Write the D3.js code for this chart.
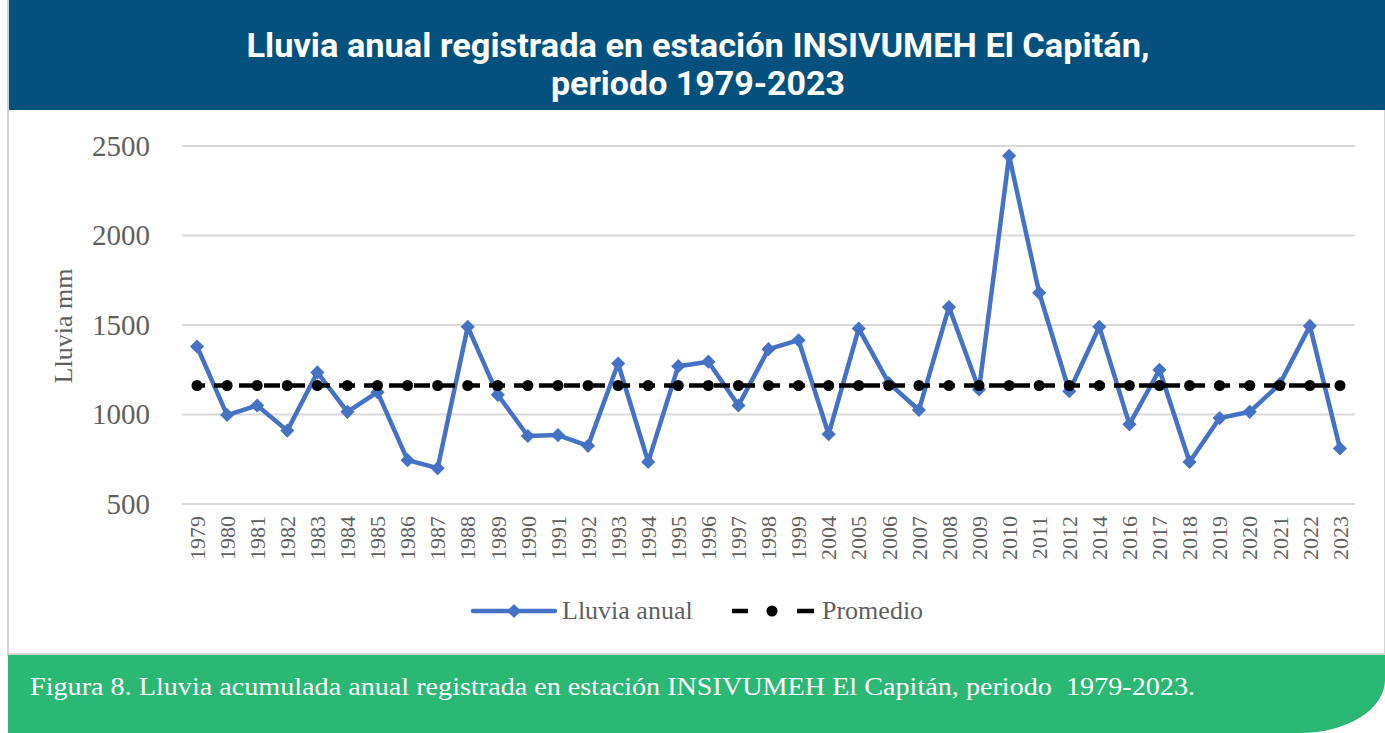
<!DOCTYPE html>
<html>
<head>
<meta charset="utf-8">
<script src="https://cdn.jsdelivr.net/npm/d3@7"></script>
<style>
  body { margin: 0; background: #fff; }
  svg { display: block; }
</style>
</head>
<body>
<svg id="chart" width="1385" height="733"></svg>
<script>
// data
const years = ["1979","1980","1981","1982","1983","1984","1985","1986","1987","1988",
  "1989","1990","1991","1992","1993","1994","1995","1996","1997","1998","1999",
  "2004","2005","2006","2007","2008","2009","2010","2011","2012","2014",
  "2016","2017","2018","2019","2020","2021","2022","2023"];
const lluviaAnual = [1380,997,1050,910,1235,1015,1125,745,700,1490,
  1110,880,885,825,1285,735,1270,1295,1050,1365,1415,
  890,1480,1175,1025,1600,1140,2445,1680,1130,1490,
  945,1250,735,980,1015,1170,1495,810];
const promedio = years.map(() => 1162);
const yTicks = [500, 1000, 1500, 2000, 2500];

const titleLines = ["Lluvia anual registrada en estación INSIVUMEH El Capitán,", "periodo 1979-2023"];
const caption = "Figura 8. Lluvia acumulada anual registrada en estación INSIVUMEH El Capitán, periodo  1979-2023.";

const W = 1385, H = 733;
const plot = {left: 182, right: 1355, top: 146, bottom: 504};
const serif = "'Liberation Serif', 'DejaVu Serif', serif";

const svg = d3.select("#chart");

// frame
svg.append("rect").attr("x", 8).attr("y", 0.5).attr("width", W - 8).attr("height", 655)
  .attr("fill", "#fff").attr("stroke", "#d4d4d4").attr("stroke-width", 2);

// header band
svg.append("rect").attr("x", 9).attr("y", 0).attr("width", W - 9).attr("height", 110)
  .attr("fill", "#03517c");

svg.append("text").attr("x", 698).attr("y", 57)
  .attr("text-anchor", "middle").attr("fill", "#fff")
  .attr("font-family", "'Liberation Sans Narrow', 'Roboto', 'Liberation Sans', sans-serif")
  .attr("font-weight", "bold").attr("font-size", 34)
  .attr("textLength", 903).attr("lengthAdjust", "spacingAndGlyphs")
  .text(titleLines[0]);
svg.append("text").attr("x", 698).attr("y", 95)
  .attr("text-anchor", "middle").attr("fill", "#fff")
  .attr("font-family", "'Liberation Sans Narrow', 'Roboto', 'Liberation Sans', sans-serif")
  .attr("font-weight", "bold").attr("font-size", 34)
  .attr("textLength", 294).attr("lengthAdjust", "spacingAndGlyphs")
  .text(titleLines[1]);

// scales
const x = d3.scaleBand().domain(years).range([plot.left, plot.right]);
const y = d3.scaleLinear().domain([500, 2500]).range([plot.bottom, plot.top]);
const cx = d => x(d) + x.bandwidth() / 2;

// gridlines
svg.append("g").selectAll("line").data(yTicks).join("line")
  .attr("x1", plot.left).attr("x2", plot.right)
  .attr("y1", d => y(d)).attr("y2", d => y(d))
  .attr("stroke", "#d9d9d9").attr("stroke-width", 2);

// y axis
const yAxis = svg.append("g")
  .attr("transform", `translate(${plot.left}, 0)`)
  .call(d3.axisLeft(y).tickValues(yTicks).tickSize(0).tickPadding(32).tickFormat(d3.format("d")));
yAxis.select(".domain").remove();
yAxis.selectAll("text").attr("font-family", serif).attr("font-size", 29).attr("fill", "#5f5f5f");

// x axis
const xAxis = svg.append("g")
  .attr("transform", `translate(0, ${plot.bottom})`)
  .call(d3.axisBottom(x).tickSize(0).tickPadding(0));
xAxis.select(".domain").remove();
xAxis.selectAll("text")
  .attr("font-family", serif).attr("font-size", 22).attr("fill", "#5f5f5f")
  .attr("text-anchor", "end").attr("dy", "0.35em")
  .attr("transform", "translate(0, 12) rotate(-90)")
  .attr("x", 0).attr("y", 0);

// y axis title
svg.append("text").attr("transform", "translate(72, 326) rotate(-90)")
  .attr("text-anchor", "middle").attr("font-family", serif).attr("font-size", 26)
  .attr("fill", "#5f5f5f").text("Lluvia mm");

// lines
const lineGen = d3.line().x((d, i) => cx(years[i])).y(d => y(d));

svg.append("path").datum(lluviaAnual).attr("d", lineGen)
  .attr("fill", "none").attr("stroke", "#4472c4").attr("stroke-width", 4.5)
  .attr("stroke-linejoin", "round");

const diamond = d3.symbol().type(d3.symbolSquare).size(100);
svg.append("g").selectAll("path").data(lluviaAnual).join("path")
  .attr("d", diamond)
  .attr("transform", (d, i) => `translate(${cx(years[i])}, ${y(d)}) rotate(45)`)
  .attr("fill", "#4472c4");

svg.append("path").datum(promedio).attr("d", lineGen)
  .attr("fill", "none").attr("stroke", "#000").attr("stroke-width", 4.5)
  .attr("stroke-dasharray", "16,9").attr("stroke-dashoffset", 8);

svg.append("g").selectAll("circle").data(promedio).join("circle")
  .attr("cx", (d, i) => cx(years[i])).attr("cy", d => y(d)).attr("r", 5.5)
  .attr("fill", "#000");

// legend
const lg = svg.append("g").attr("transform", "translate(0, 611)");
lg.append("line").attr("x1", 473).attr("x2", 555).attr("y1", 0).attr("y2", 0)
  .attr("stroke", "#4472c4").attr("stroke-width", 4.5).attr("stroke-linecap", "round");
lg.append("path").attr("d", diamond).attr("transform", "translate(514, 0) rotate(45)")
  .attr("fill", "#4472c4");
lg.append("text").attr("x", 562).attr("y", 0).attr("dy", "0.32em")
  .attr("font-family", serif).attr("font-size", 26).attr("fill", "#5f5f5f")
  .text("Lluvia anual");

lg.append("line").attr("x1", 732).attr("x2", 814).attr("y1", 0).attr("y2", 0)
  .attr("stroke", "#000").attr("stroke-width", 4.5).attr("stroke-dasharray", "16,49,17");
lg.append("circle").attr("cx", 772).attr("cy", 0).attr("r", 5.5).attr("fill", "#000");
lg.append("text").attr("x", 822).attr("y", 0).attr("dy", "0.32em")
  .attr("font-family", serif).attr("font-size", 26).attr("fill", "#5f5f5f")
  .text("Promedio");

// footer band
svg.append("line").attr("x1", 8).attr("x2", W).attr("y1", 654).attr("y2", 654)
  .attr("stroke", "#d4d4d4").attr("stroke-width", 2);
svg.append("path")
  .attr("d", `M8,655 H${W} V680 A85,53 0 0 1 1300,733 H8 Z`)
  .attr("fill", "#2ab874");
svg.append("text").attr("x", 30).attr("y", 695)
  .attr("font-family", serif).attr("font-size", 25).attr("fill", "#fff")
  .style("white-space", "pre")
  .attr("textLength", 1165).attr("lengthAdjust", "spacingAndGlyphs")
  .text(caption);
</script>
</body>
</html>
